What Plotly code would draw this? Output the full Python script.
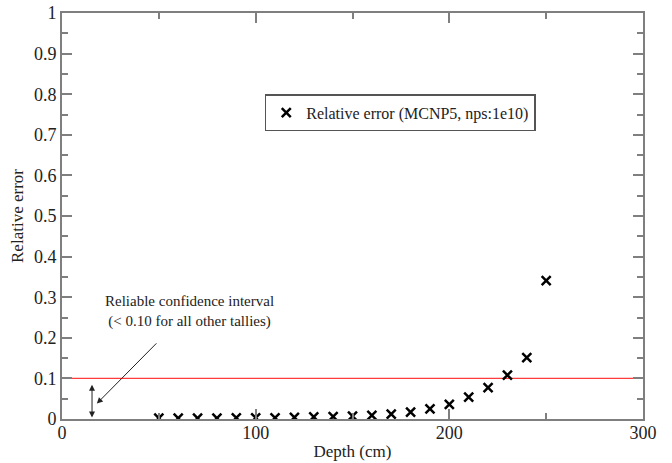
import plotly.graph_objects as go

depth = [50, 60, 70, 80, 90, 100, 110, 120, 130, 140, 150, 160, 170, 180, 190, 200, 210, 220, 230, 240, 250]
rel_err = [0.002, 0.002, 0.002, 0.002, 0.003, 0.003, 0.003, 0.004, 0.005, 0.006, 0.007, 0.009, 0.012,
           0.017, 0.025, 0.036, 0.054, 0.077, 0.108, 0.151, 0.341]
threshold = 0.1
series_name = "Relative error (MCNP5, nps:1e10)"

FONT = "Liberation Serif"
AX = "#7f7f7f"

fig = go.Figure()
fig.add_trace(go.Scatter(x=[0, 300], y=[threshold, threshold], mode="lines",
                         line=dict(color="#ff3b3b", width=1.2), showlegend=False, hoverinfo="skip"))
fig.add_trace(go.Scatter(x=depth, y=rel_err, mode="markers", name=series_name,
                         marker=dict(symbol="x-thin", size=9, color="black",
                                     line=dict(color="black", width=2.5))))

axis_common = dict(showgrid=False, zeroline=False, showline=True, linecolor=AX, linewidth=2,
                   mirror="ticks", ticks="inside", tickcolor=AX, tickwidth=2, ticklen=10,
                   automargin=False,
                   tickfont=dict(family=FONT, size=18, color="#222"))
fig.update_xaxes(range=[0, 300], tickvals=[0, 100, 200, 300], ticktext=["0", "100", "200", "300"],
                 ticklabelstandoff=-4,
                 minor=dict(ticks="inside", dtick=50, tick0=0, ticklen=6, tickcolor=AX, tickwidth=2),
                 title=dict(text="Depth (cm)", font=dict(family=FONT, size=17, color="#222"), standoff=4),
                 **axis_common)
fig.update_yaxes(range=[0, 1], dtick=0.1, tickformat="~g",
                 minor=dict(ticks="inside", dtick=0.05, tick0=0, ticklen=6, tickcolor=AX, tickwidth=2),
                 title=dict(text="Relative error", font=dict(family=FONT, size=17, color="#222"), standoff=6),
                 **axis_common)

# annotation text
fig.add_annotation(x=66, y=0.265, xref="x", yref="y", showarrow=False,
                   text="Reliable confidence interval<br>(< 0.10 for all other tallies)",
                   font=dict(family=FONT, size=15, color="#222"), align="center")
# diagonal arrow
fig.add_annotation(x=18, y=0.038, ax=49.5, ay=0.19, xref="x", yref="y", axref="x", ayref="y",
                   text="", showarrow=True, arrowhead=2, arrowsize=1.2, arrowwidth=1, arrowcolor="#222")
# double-headed vertical arrow
fig.add_annotation(x=15.5, y=0.004, ax=15.5, ay=0.088, xref="x", yref="y", axref="x", ayref="y",
                   text="", showarrow=True, arrowhead=2, arrowside="end+start", arrowsize=1.2,
                   arrowwidth=1, arrowcolor="#222")

fig.update_layout(
    width=672, height=463, margin=dict(l=62, r=29, t=13, b=44, autoexpand=False),
    paper_bgcolor="white", plot_bgcolor="white",
    font=dict(family=FONT, color="#222"),
    legend=dict(x=0.349, y=0.80, xanchor="left", yanchor="top", bgcolor="white",
                bordercolor="#555", borderwidth=1.5, font=dict(family=FONT, size=16, color="#222"),
                itemwidth=30),
)

fig.write_html("out.html")
